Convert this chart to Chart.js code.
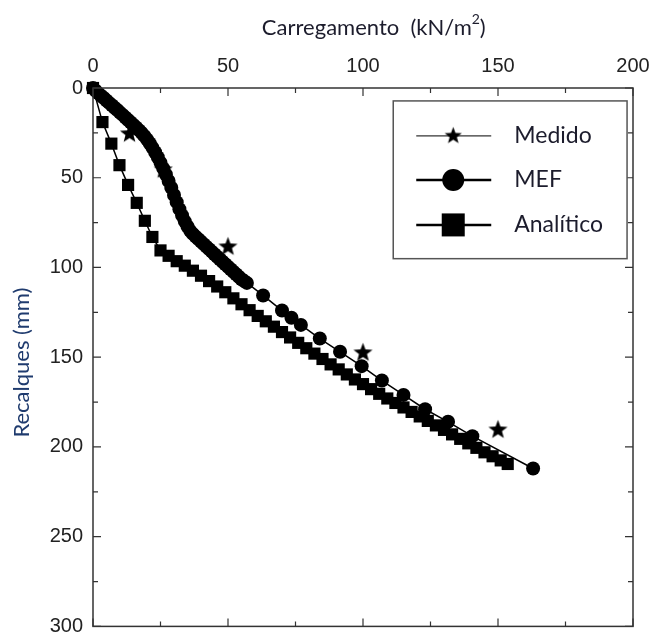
<!DOCTYPE html>
<html>
<head>
<meta charset="utf-8">
<script src="https://cdn.jsdelivr.net/npm/chart.js@4.4.1/dist/chart.umd.min.js"></script>
<style>
    html, body { margin: 0; padding: 0; background: #fff; }
    #wrap { width: 653px; height: 635px; }
</style>
</head>
<body>
<div id="wrap"><canvas id="settlementChart" width="653" height="635"></canvas></div>
<script>
const LOAD_TICKS       = [0, 50, 100, 150, 200];
const SETTLEMENT_TICKS = [0, 50, 100, 150, 200, 250, 300];
const SERIES_LABELS    = ['Medido', 'MEF', 'Analítico'];
const LOAD_TITLE       = 'Carregamento  (kN/m';
const SETTLEMENT_TITLE = 'Recalques (mm)';

const MEDIDO_LOAD       = [13.5, 26, 50, 100, 150];
const MEDIDO_SETTLEMENT = [25, 45, 88, 147, 190];

const MEF_LOAD = [0, 1, 2, 3, 4, 5, 6, 7, 8, 9, 10, 11, 12, 13, 14, 15, 16, 17, 18, 19,
    20, 21, 22, 23, 24, 25, 26, 27, 28, 29, 30, 31, 32, 33, 34, 35, 36, 37, 38, 39,
    40, 41, 42, 43, 44, 45, 46, 47, 48, 49, 50, 51, 52, 53, 54, 55, 56, 57,
    63, 70, 73.5, 77, 84, 91.5, 99.5, 107, 115, 123, 131.5, 140.5, 163];
const MEF_SETTLEMENT = [0, 1.5, 3, 4.3, 5.6, 7, 8.3, 9.6, 11, 12.3, 13.7, 15, 16.4, 17.8, 19.2, 20.6, 22, 23.5, 25, 26.7,
    28.6, 30.8, 33.2, 35.8, 38.6, 41.6, 44.8, 48.2, 51.8, 55.6, 59.6, 63.6, 67.5, 71, 74.3, 77.2, 79.6, 81.3, 82.8, 84.2,
    85.6, 87, 88.4, 89.8, 91.2, 92.6, 94, 95.4, 96.8, 98.2, 99.6, 101, 102.4, 103.8, 105.2, 106.6, 107.6, 108.6,
    115.6, 124, 128, 132, 139.6, 147, 155, 163, 171, 179, 186, 194, 212];

const ANALITICO_LOAD = [0, 3.5, 6.8, 9.8, 13, 16.2, 19.2, 22,
    25, 28, 31, 34, 37, 40, 43, 46, 49, 52, 55, 58, 61, 64, 67, 70, 73, 76, 79, 82, 85, 88,
    91, 94, 97, 100, 103, 106, 109, 112, 115, 118, 121, 124, 127, 130, 133, 136, 139, 142,
    145, 148, 151, 153.6];
const ANALITICO_SETTLEMENT = [0, 19, 31, 43, 54, 64, 74, 83,
    90.5, 93.5, 96.5, 99, 101.8, 104.6, 107.6, 110.6, 113.8, 117.2, 120.5, 123.8, 127, 130, 133, 136, 139, 142, 145, 148, 151, 154,
    156.8, 159.6, 162.4, 165, 167.8, 170.4, 173, 175.5, 178, 180.5, 183, 185.5, 188, 190.5, 193, 195.5, 198, 200.5,
    203, 205.2, 207.5, 209.5];

const TICK_FONT  = {family: "'Liberation Sans', Arial, sans-serif", size: 20};
const TEXT_FONT  = "Lato, 'Open Sans', sans-serif";
const FRAME_COLOR = '#333';

document.addEventListener('DOMContentLoaded', function () {
    let oChart = {
        init: function() {
            this.cacheDom();
            this.oStar = this.makeStar(21);
            this.oLegendStar = this.makeStar(19);
            this.draw();
        },
        cacheDom: function() {
            this.oCanvas = document.getElementById('settlementChart').getContext('2d');
        },
        /**
         * Filled five point star used as point style
         */
        makeStar: function(iSize) {
            const oStar = document.createElement('canvas');
            oStar.width = oStar.height = iSize;
            const ctx = oStar.getContext('2d');
            const c = iSize / 2, rOut = iSize / 2 - 0.5, rIn = rOut * 0.42;
            ctx.beginPath();
            for (let i = 0; i < 10; i++) {
                const r = i % 2 ? rIn : rOut;
                const a = -Math.PI / 2 + i * Math.PI / 5;
                ctx.lineTo(c + r * Math.cos(a), c + 1 + r * Math.sin(a));
            }
            ctx.closePath();
            ctx.fillStyle = '#000';
            ctx.fill();
            return oStar;
        },
        zip: function(aX, aY) {
            return aX.map(function(x, i) { return {x: x, y: aY[i]}; });
        },
        /**
         * Frame with inward ticks on all four sides
         */
        framePlugin: {
            id: 'frame',
            afterDatasetsDraw: function(chart) {
                const ctx = chart.ctx, a = chart.chartArea;
                const sx = chart.scales.x, sy = chart.scales.y;
                ctx.save();
                ctx.strokeStyle = FRAME_COLOR;
                ctx.lineWidth = 1.5;
                ctx.strokeRect(a.left, a.top, a.right - a.left, a.bottom - a.top);
                ctx.lineWidth = 1.2;
                ctx.beginPath();
                for (let v = 0; v <= 200; v += 25) {
                    const px = sx.getPixelForValue(v), len = v % 50 === 0 ? 8 : 5;
                    ctx.moveTo(px, a.top); ctx.lineTo(px, a.top + len);
                    ctx.moveTo(px, a.bottom); ctx.lineTo(px, a.bottom - len);
                }
                for (let v = 0; v <= 300; v += 25) {
                    const py = sy.getPixelForValue(v), len = v % 50 === 0 ? 8 : 5;
                    ctx.moveTo(a.left, py); ctx.lineTo(a.left + len, py);
                    ctx.moveTo(a.right, py); ctx.lineTo(a.right - len, py);
                }
                ctx.stroke();
                ctx.restore();
            }
        },
        /**
         * Axis titles and the boxed legend
         */
        textPlugin: function() {
            const self = this;
            return {
                id: 'texts',
                afterDraw: function(chart) {
                    const ctx = chart.ctx, a = chart.chartArea;
                    const w = a.right - a.left, h = a.bottom - a.top;
                    ctx.save();
                    // top title
                    ctx.fillStyle = '#1c1c2c';
                    ctx.font = '22px ' + TEXT_FONT;
                    ctx.textBaseline = 'middle';
                    const tw = ctx.measureText(LOAD_TITLE).width;
                    ctx.font = '14px ' + TEXT_FONT;
                    const sw = ctx.measureText('2').width;
                    ctx.font = '22px ' + TEXT_FONT;
                    const cw = ctx.measureText(')').width;
                    let tx = a.left + w * 0.52 - (tw + sw + cw) / 2;
                    ctx.textAlign = 'left';
                    ctx.fillText(LOAD_TITLE, tx, 28);
                    ctx.font = '14px ' + TEXT_FONT;
                    ctx.fillText('2', tx + tw, 19);
                    ctx.font = '22px ' + TEXT_FONT;
                    ctx.fillText(')', tx + tw + sw, 28);
                    // left title
                    ctx.save();
                    ctx.translate(22, a.top + h * 0.51);
                    ctx.rotate(-Math.PI / 2);
                    ctx.textAlign = 'center';
                    ctx.fillStyle = '#1f3b6e';
                    ctx.fillText(SETTLEMENT_TITLE, 0, 0);
                    ctx.restore();
                    // legend
                    const bx = a.left + w * 0.556, by = a.top + h * 0.024;
                    const bw = w * 0.433, bh = h * 0.293;
                    ctx.fillStyle = '#fff';
                    ctx.fillRect(bx, by, bw, bh);
                    ctx.strokeStyle = '#555';
                    ctx.lineWidth = 1.5;
                    ctx.strokeRect(bx, by, bw, bh);
                    const lx0 = bx + 23, lx1 = bx + 98, mx = bx + 60;
                    const rows = [by + 35, by + 79, by + 124];
                    ctx.strokeStyle = '#000';
                    ctx.fillStyle = '#000';
                    rows.forEach(function(ry, i) {
                        ctx.lineWidth = i === 0 ? 1 : 2.5;
                        ctx.beginPath();
                        ctx.moveTo(lx0, ry); ctx.lineTo(lx1, ry);
                        ctx.stroke();
                        if (i === 0) {
                            ctx.drawImage(self.oLegendStar, mx - 9.5, ry - 10.5);
                        } else if (i === 1) {
                            ctx.beginPath();
                            ctx.arc(mx, ry, 11, 0, Math.PI * 2);
                            ctx.fill();
                        } else {
                            ctx.fillRect(mx - 11.5, ry - 11.5, 23, 23);
                        }
                    });
                    ctx.fillStyle = '#1c1c2c';
                    ctx.font = '23px ' + TEXT_FONT;
                    ctx.textAlign = 'left';
                    rows.forEach(function(ry, i) {
                        ctx.fillText(SERIES_LABELS[i], bx + 121, ry);
                    });
                    ctx.restore();
                }
            };
        },
        buildScale: function(aTicks, oExtra) {
            return Object.assign({
                type: 'linear',
                min: aTicks[0],
                max: aTicks[aTicks.length - 1],
                afterBuildTicks: function(scale) {
                    scale.ticks = aTicks.map(function(v) { return {value: v}; });
                },
                grid: {display: false, drawTicks: false},
                border: {display: false},
                ticks: {font: TICK_FONT, color: '#222', padding: 10}
            }, oExtra);
        },
        draw: function() {
            const oData = {
                datasets: [{
                    label: SERIES_LABELS[0],
                    data: oChart.zip(MEDIDO_LOAD, MEDIDO_SETTLEMENT),
                    showLine: false,
                    pointStyle: oChart.oStar,
                    clip: false
                }, {
                    label: SERIES_LABELS[1],
                    data: oChart.zip(MEF_LOAD, MEF_SETTLEMENT),
                    showLine: true,
                    borderColor: '#000',
                    borderWidth: 1.5,
                    pointStyle: 'circle',
                    pointRadius: 7,
                    pointBackgroundColor: '#000',
                    pointBorderWidth: 0,
                    clip: false
                }, {
                    label: SERIES_LABELS[2],
                    data: oChart.zip(ANALITICO_LOAD, ANALITICO_SETTLEMENT),
                    showLine: true,
                    borderColor: '#000',
                    borderWidth: 1.5,
                    pointStyle: 'rect',
                    pointRadius: 8.6,
                    pointBackgroundColor: '#000',
                    pointBorderWidth: 0,
                    clip: false
                }]
            };
            return new Chart(oChart.oCanvas, {
                type: 'scatter',
                data: oData,
                options: {
                    responsive: false,
                    animation: false,
                    layout: {padding: {top: 0, left: 0, right: 20, bottom: 7}},
                    plugins: {legend: {display: false}, tooltip: {enabled: false}},
                    scales: {
                        x: oChart.buildScale(LOAD_TICKS, {
                            position: 'top',
                            afterFit: function(scale) {
                                scale.height = 88;
                                scale.paddingLeft = 0;
                                scale.paddingRight = 0;
                            }
                        }),
                        y: oChart.buildScale(SETTLEMENT_TICKS, {
                            reverse: true,
                            afterFit: function(scale) {
                                scale.width = 93;
                                scale.paddingTop = 0;
                                scale.paddingBottom = 0;
                            }
                        })
                    }
                },
                plugins: [oChart.framePlugin, oChart.textPlugin()]
            });
        }
    };

    oChart.init();
});
</script>
</body>
</html>
